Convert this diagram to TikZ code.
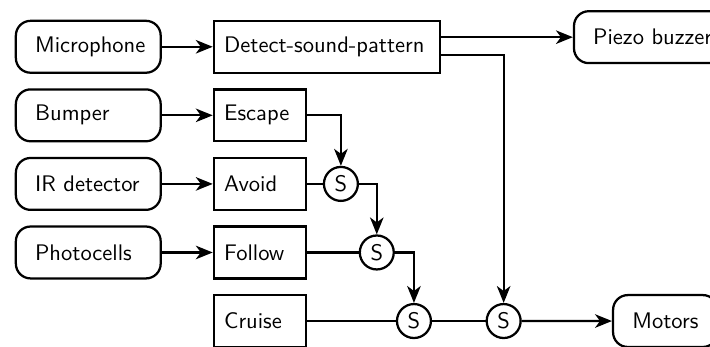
\documentclass[tikz,border=0pt]{standalone}
\usetikzlibrary{arrows.meta}
\begin{document}
\begin{tikzpicture}[line width=1pt, every node/.style={font=\sffamily},
    sensor/.style={draw, rounded corners=0.23cm, anchor=west, minimum height=0.81cm,
      inner xsep=0.3cm, text width=1.66cm, align=left},
    actuator/.style={draw, rounded corners=0.23cm, anchor=west, minimum height=0.81cm,
      inner xsep=0.3cm},
    behav/.style={draw, anchor=west, minimum height=0.81cm, inner xsep=0.16cm,
      text width=1.12cm, align=left},
    supp/.style={draw, circle, minimum size=0.53cm, inner sep=0pt},
    >={Stealth[length=7.5pt,width=6pt,inset=2.2pt]}]
    \useasboundingbox (0,0) rectangle (11.08,-5.40);
    \foreach \i/\nm/\lab in {0/mic/Microphone, 1/bump/Bumper, 2/ir/IR detector, 3/photo/Photocells}
        \node[sensor] (\nm) at (0.23,-0.73-1.07*\i) {\lab};
    \node[behav, text width=3.21cm] (detect) at (3.32,-0.73) {Detect-sound-pattern};
    \foreach \i/\nm/\lab in {1/escape/Escape, 2/avoid/Avoid, 3/follow/Follow, 4/cruise/Cruise}
        \node[behav] (\nm) at (3.32,-0.73-1.07*\i) {\lab};
    \foreach \nm/\x/\i in {s1/5.32/2, s2/5.88/3, s3/6.46/4, s4/7.86/4}
        \node[supp] (\nm) at (\x,-0.73-1.07*\i) {S};
    \node[actuator] (piezo) at (8.94,-0.58) {Piezo buzzer};
    \node[actuator] (motors) at (9.55,-5.01) {Motors};
    % sensors to behaviours
    \foreach \a/\b in {mic/detect, bump/escape, ir/avoid, photo/follow}
        \draw[->] (\a) -- (\b);
    % suppression chain
    \draw[->] (escape) -| (s1);
    \draw (avoid) -- (s1);
    \draw[->] (s1) -| (s2);
    \draw (follow) -- (s2);
    \draw[->] (s2) -| (s3);
    \draw (cruise) -- (s3) -- (s4);
    \draw[->] ([yshift=-0.13cm]detect.east) -| (s4);
    \draw[->] (piezo -| detect.east) -- (piezo);
    \draw[->] (s4) -- (motors);
\end{tikzpicture}
\end{document}
